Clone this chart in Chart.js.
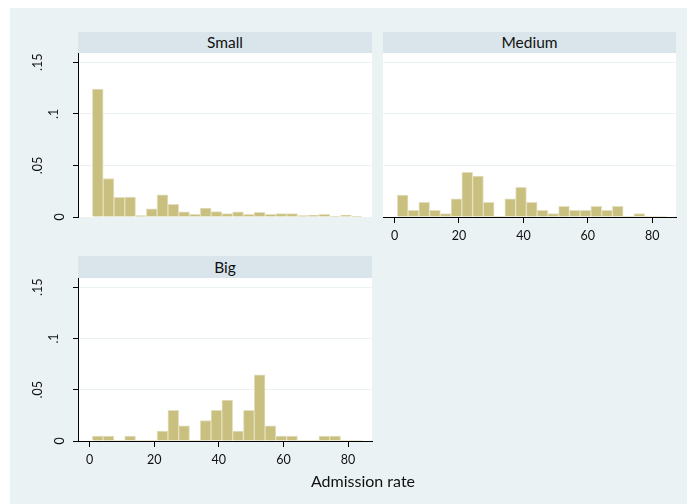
<!DOCTYPE html>
<html>
<head>
<meta charset="utf-8">
<script src="https://cdn.jsdelivr.net/npm/chart.js@4.4.1/dist/chart.umd.min.js"></script>
<style>
  html, body { margin: 0; padding: 0; background: #ffffff; }
  #page { position: relative; width: 687px; height: 504px; overflow: hidden; font-family: Lato, "DejaVu Sans", sans-serif; }
  #bg { position: absolute; left: 10px; top: 8px; right: 0; bottom: 0; background: #EAF2F3; }
  .strip { position: absolute; background: #D9E5EA; color: #111; font-size: 15.5px; text-align: center; }
  canvas { position: absolute; left: 0; top: 0; }
  #xtitle { position: absolute; top: 471px; left: 263px; width: 200px; text-align: center; font-size: 16px; color: #111; }
</style>
</head>
<body>
<div id="page">
  <div id="bg"></div>
  <div class="strip" id="s1" style="left:78px;top:32px;width:294px;height:21px;line-height:21px;">Small</div>
  <div class="strip" id="s2" style="left:383px;top:32px;width:293px;height:21px;line-height:21px;">Medium</div>
  <div class="strip" id="s3" style="left:78px;top:256px;width:294px;height:22px;line-height:22px;">Big</div>
  <canvas id="cSmall" width="687" height="504"></canvas>
  <canvas id="cMedium" width="687" height="504"></canvas>
  <canvas id="cBig" width="687" height="504"></canvas>
  <div id="xtitle">Admission rate</div>
</div>
<script>
// ---- data ----
const binCenters = [2.52, 5.86, 9.20, 12.54, 15.88, 19.22, 22.56, 25.90, 29.24, 32.58,
                    35.92, 39.26, 42.60, 45.94, 49.28, 52.62, 55.96, 59.30, 62.64, 65.98,
                    69.32, 72.66, 76.00, 79.34, 82.68];
const smallDensity = [0.1240, 0.0372, 0.0191, 0.0194, 0.0013, 0.0078, 0.0214, 0.0123, 0.0049, 0.0026,
                      0.0087, 0.0052, 0.0032, 0.0049, 0.0026, 0.0045, 0.0026, 0.0032, 0.0032, 0.0013,
                      0.0016, 0.0026, 0.0010, 0.0016, 0.0007];
const mediumDensity = [0.0213, 0.0065, 0.0142, 0.0065, 0.0032, 0.0177, 0.0432, 0.0397, 0.0142, 0,
                       0.0177, 0.0287, 0.0142, 0.0065, 0.0032, 0.0103, 0.0065, 0.0065, 0.0103, 0.0065,
                       0.0103, 0, 0.0032, 0, 0];
const bigDensity = [0.0048, 0.0048, 0, 0.0048, 0, 0, 0.0097, 0.0300, 0.0148, 0,
                    0.0200, 0.0300, 0.0400, 0.0097, 0.0300, 0.0645, 0.0148, 0.0048, 0.0048, 0,
                    0, 0.0048, 0.0048, 0, 0];
const xTickValues = [0, 20, 40, 60, 80];
const xTickLabels = ["0", "20", "40", "60", "80"];
const yTickValues = [0, 0.05, 0.1, 0.15];
const yTickLabels = ["0", ".05", ".1", ".15"];

// ---- style ----
const W = 687, H = 504;
const X_MIN = -3.6, X_MAX = 87.4, Y_MAX = 0.159;
const BAR = '#C9C07F', BAR_EDGE = '#E3DFC0';
const GRID = '#EAF2F3';
const FONT = 'Lato';
const TICK_SIZE = 12.5;
const Y_W = 40, X_H = 30;

const plotBg = {
  id: 'plotBg',
  beforeDraw(chart) {
    const a = chart.chartArea, ctx = chart.ctx;
    ctx.save(); ctx.fillStyle = '#ffffff';
    ctx.fillRect(a.left, a.top, a.right - a.left, a.bottom - a.top);
    ctx.restore();
  }
};
const yLabels = {
  id: 'yLabels',
  afterDraw(chart, args, opts) {
    if (!opts.show) return;
    const s = chart.scales.y, ctx = chart.ctx;
    ctx.save();
    ctx.font = TICK_SIZE + 'px ' + FONT;
    ctx.fillStyle = '#111';
    ctx.textAlign = 'center';
    ctx.textBaseline = 'middle';
    yTickValues.forEach((v, i) => {
      const t = yTickLabels[i];
      const w = ctx.measureText(t).width;
      const y = s.getPixelForValue(v);
      const x = s.right - 2.3 - 2.14 * w;
      ctx.save();
      ctx.translate(x, y);
      ctx.rotate(-Math.PI / 2);
      ctx.fillText(t, 0, 0);
      ctx.restore();
    });
    ctx.restore();
  }
};

function makeChart(id, values, rect, showY, showX) {
  const pad = {
    left: rect.L - (showY ? Y_W : 0),
    top: rect.T,
    right: W - rect.R,
    bottom: H - rect.B - (showX ? X_H : 0)
  };
  return new Chart(document.getElementById(id), {
    type: 'bar',
    data: {
      datasets: [{
        data: binCenters.map((c, i) => ({ x: c, y: values[i] })),
        backgroundColor: BAR,
        borderColor: BAR_EDGE,
        borderWidth: (ctx) => (ctx.raw && ctx.raw.y > 0 ? 1 : 0),
        borderSkipped: 'start',
        barPercentage: 1,
        categoryPercentage: 1
      }]
    },
    options: {
      responsive: false,
      animation: false,
      devicePixelRatio: 1,
      layout: { padding: pad },
      plugins: { legend: { display: false }, tooltip: { enabled: false }, yLabels: { show: showY } },
      scales: {
        x: {
          type: 'linear', min: X_MIN, max: X_MAX, offset: false,
          display: showX,
          grid: { display: true, offset: false, drawOnChartArea: false, drawTicks: true, tickLength: 6, tickColor: '#000', lineWidth: 1 },
          border: { display: true, color: '#000', width: 1 },
          ticks: {
            autoSkip: false, maxRotation: 0, minRotation: 0, padding: 5,
            color: '#111', font: { family: FONT, size: TICK_SIZE },
            callback: (v, i) => xTickLabels[i]
          },
          afterBuildTicks: (s) => { s.ticks = xTickValues.map(v => ({ value: v })); },
          afterFit: (s) => { s.height = showX ? X_H : 0; }
        },
        y: {
          type: 'linear', min: 0, max: Y_MAX,
          display: true,
          grid: { display: true, color: GRID, lineWidth: 1, drawOnChartArea: true, drawTicks: showY, tickLength: 5, tickColor: '#000' },
          border: { display: showY, color: '#000', width: 1 },
          ticks: { display: false },
          afterBuildTicks: (s) => { s.ticks = yTickValues.map(v => ({ value: v })); },
          afterFit: (s) => { s.width = showY ? Y_W : 0; }
        }
      }
    },
    plugins: [plotBg, yLabels]
  });
}

makeChart('cSmall', smallDensity, { L: 78, T: 53, R: 372, B: 217 }, true, false);
makeChart('cMedium', mediumDensity, { L: 383, T: 53, R: 676, B: 217 }, false, true);
makeChart('cBig', bigDensity, { L: 78, T: 278, R: 372, B: 441 }, true, true);
</script>
</body>
</html>
